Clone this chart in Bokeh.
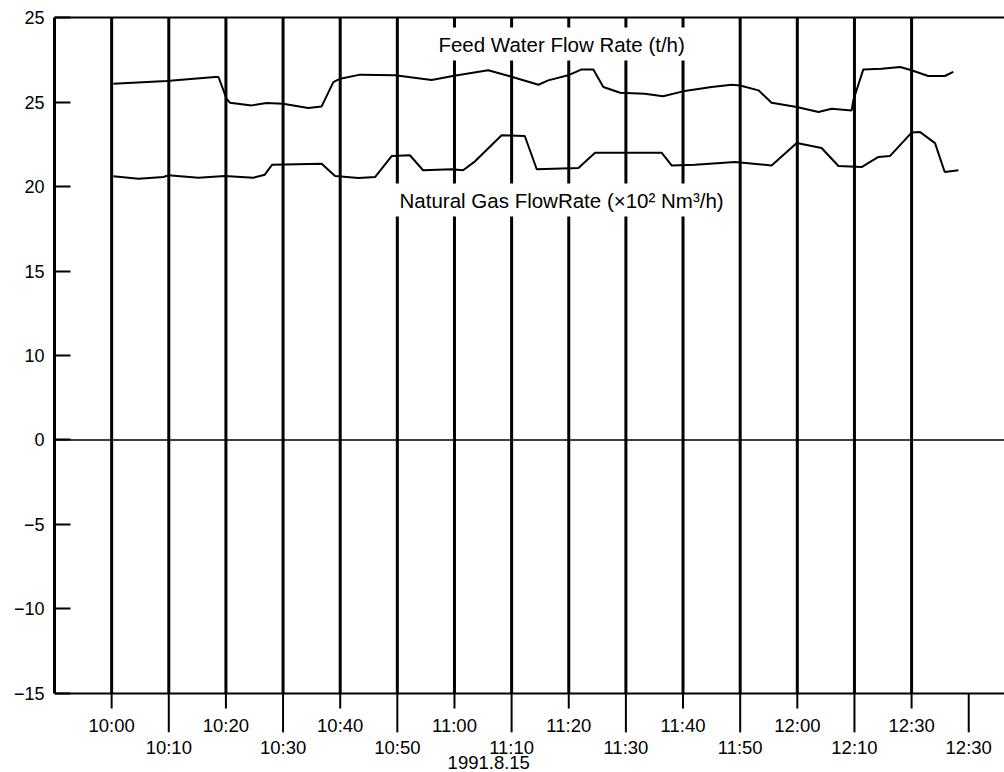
from bokeh.plotting import figure
from bokeh.models import Range1d, FixedTicker, Label, Span
from bokeh.core.properties import value
from bokeh.embed import file_html
from bokeh.resources import INLINE

# ---- data (minutes after 10:00) ----
feed_t = [0.3, 9.6, 18.1, 18.7, 20.1, 20.7, 24.5, 27.1, 30.0, 34.4, 36.75, 38.8, 40.0, 43.5,
          49.6, 56.0, 59.7, 65.9, 69.7, 74.7, 76.4, 79.9, 82.25, 84.3, 86.05, 89.0, 93.3, 96.5,
          100.0, 105.0, 108.5, 110.0, 113.2, 115.5, 119.9, 123.7, 126.0, 129.5, 129.8, 131.55,
          134.75, 138.0, 140.0, 142.9, 145.8, 147.3]
feed_v = [26.08, 26.24, 26.48, 26.48, 25.2, 24.96, 24.8, 24.94, 24.9, 24.64, 24.74, 26.18, 26.38, 26.62,
          26.58, 26.3, 26.54, 26.88, 26.52, 26.02, 26.28, 26.58, 26.93, 26.93, 25.89, 25.55, 25.49, 25.34,
          25.63, 25.89, 26.02, 25.98, 25.69, 24.96, 24.7, 24.41, 24.6, 24.5, 25.1, 26.93,
          26.97, 27.07, 26.88, 26.54, 26.54, 26.78]

gas_t = [0.3, 4.7, 9.05, 9.9, 15.2, 19.8, 24.8, 26.8, 28.1, 36.75, 39.1, 43.2, 46.1, 49.0, 52.2,
         54.5, 59.5, 61.5, 63.6, 68.25, 72.3, 74.4, 81.7, 84.6, 96.25, 98.0, 102.1, 109.1, 115.5,
         119.9, 124.25, 127.2, 131.25, 134.2, 136.2, 140.0, 141.5, 144.1, 145.8, 148.2]
gas_v = [20.6, 20.46, 20.56, 20.66, 20.52, 20.62, 20.52, 20.7, 21.29, 21.35, 20.62, 20.5, 20.56, 21.8, 21.85,
         20.96, 21.02, 20.96, 21.49, 23.03, 22.99, 21.02, 21.09, 22.0, 22.0, 21.25, 21.29, 21.45, 21.25,
         22.57, 22.28, 21.21, 21.15, 21.75, 21.8, 23.19, 23.22, 22.57, 20.86, 20.96]

# y ticks and their (printed) labels
y_ticks = [30, 25, 20, 15, 10, 5, 0, -5, -10]
y_labels = ["25", "25", "20", "15", "10", "0", "\u22125", "\u221210", "\u221215"]

# x ticks: upper row and lower row (staggered)
upper_x = [0, 20, 40, 60, 80, 100, 120, 140]
upper_labels = ["10:00", "10:20", "10:40", "11:00", "11:20", "11:40", "12:00", "12:30"]
lower_x = [10, 30, 50, 70, 90, 110, 130, 150]
lower_labels = ["10:10", "10:30", "10:50", "11:10", "11:30", "11:50", "12:10", "12:30"]
grid_x = [0, 10, 20, 30, 40, 50, 60, 70, 80, 90, 100, 110, 120, 130, 140]
date_label = ["1991.8.15"]
date_x = [66]

FONT = "Liberation Sans"

p = figure(width=1004, height=772, title=None,
           x_range=Range1d(-10, 156.26), y_range=Range1d(-14.675, 30.178),
           output_backend="svg", toolbar_location=None, x_axis_location=None,
           min_border_left=54, min_border_right=0, min_border_top=14, min_border_bottom=0)
p.grid.visible = False
p.outline_line_color = None
p.background_fill_color = "white"
p.border_fill_color = "white"

ax = p.yaxis[0]
ax.ticker = FixedTicker(ticks=y_ticks)
ax.major_label_overrides = {t: l for t, l in zip(y_ticks, y_labels)}
ax.bounds = (-10, 30)
ax.axis_line_width = 3
ax.axis_line_color = "black"
ax.major_tick_in = 16
ax.major_tick_out = 0
ax.major_tick_line_width = 2
ax.major_tick_line_color = "black"
ax.minor_tick_line_color = None
ax.major_label_text_font = FONT
ax.major_label_text_font_size = "18px"
ax.major_label_text_color = "black"
ax.major_label_standoff = 10

# horizontal frame lines
p.add_layout(Span(location=30, dimension="width", line_color="black", line_width=2))
p.add_layout(Span(location=5, dimension="width", line_color="black", line_width=1.5))
p.add_layout(Span(location=-10, dimension="width", line_color="black", line_width=2))

# vertical time lines
p.segment(x0=grid_x, y0=-10, x1=grid_x, y1=30, line_color="black", line_width=3)

# ticks below the axis
p.segment(x0=upper_x, y0=-10, x1=upper_x, y1=-10.89, line_color="black", line_width=2)
p.segment(x0=lower_x, y0=-10, x1=lower_x, y1=-12.3, line_color="black", line_width=2)

# tick labels
p.text(x=upper_x, y=-11.89, text=upper_labels, text_align="center", text_baseline="middle",
       text_font=value(FONT), text_font_size="18.5px", text_color="black")
p.text(x=lower_x, y=-13.19, text=lower_labels, text_align="center", text_baseline="middle",
       text_font=value(FONT), text_font_size="18.5px", text_color="black")
p.text(x=date_x, y=-14.08, text=date_label, text_align="center", text_baseline="middle",
       text_font=value(FONT), text_font_size="18.5px", text_color="black")

# data lines
p.line(feed_t, feed_v, line_color="black", line_width=2)
p.line(gas_t, gas_v, line_color="black", line_width=2)

# series labels
p.add_layout(Label(x=78.75, y=28.43, text="Feed Water Flow Rate (t/h)", text_align="center",
                   text_baseline="middle", text_font=FONT, text_font_size="20.5px",
                   text_color="black", background_fill_color="white", padding=5))
p.add_layout(Label(x=78.75, y=19.2, text="Natural Gas FlowRate (\u00d710\u00b2 Nm\u00b3/h)",
                   text_align="center", text_baseline="middle", text_font=FONT,
                   text_font_size="20.5px", text_color="black", background_fill_color="white",
                   padding=5))

open("out.html", "w").write(file_html(p, INLINE))
